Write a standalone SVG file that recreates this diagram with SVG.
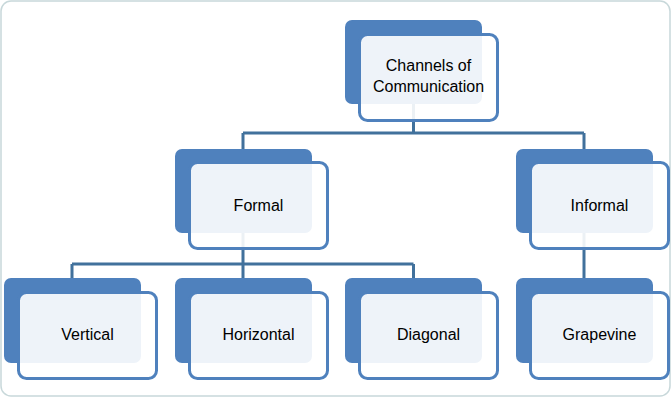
<svg xmlns="http://www.w3.org/2000/svg" width="671" height="397" viewBox="0 0 671 397">
<defs>
<style>
.back{fill:#4F81BD;}
.front{fill:#FFFFFF;fill-opacity:0.9;stroke:#4F81BD;stroke-width:3;}
.conn{fill:none;stroke:#41719C;stroke-width:3;}
.lbl{font-family:"Liberation Sans",Arial,sans-serif;font-size:16px;fill:#000;text-anchor:middle;}
.frame{fill:#FFFFFF;stroke:#C8D8DA;stroke-width:1.5;}
</style>
</defs>
<rect class="frame" x="1" y="1" width="669" height="395" rx="10"/>
<g id="connectors">
<path class="conn" d="M413.5 104 V133 M243 133 H584 M243 133 V149 M584 133 V149"/>
<path class="conn" d="M243 233 V264 M72 264 H413.5 M72 264 V278 M413.5 264 V278 M243 264 V278"/>
<path class="conn" d="M584 233 V278"/>
</g>
<g id="n-channels">
<rect class="back" x="345" y="20" width="137" height="84" rx="7"/>
<rect class="front" x="359.5" y="34.5" width="138" height="86" rx="8"/>
<text class="lbl" x="428.5" y="71">Channels of</text>
<text class="lbl" x="428.5" y="92">Communication</text>
</g>
<g id="n-formal">
<rect class="back" x="175" y="149" width="137" height="84" rx="7"/>
<rect class="front" x="189.5" y="162.5" width="138" height="86" rx="8"/>
<text class="lbl" x="258.5" y="211">Formal</text>
</g>
<g id="n-informal">
<rect class="back" x="516" y="149" width="137" height="84" rx="7"/>
<rect class="front" x="530.5" y="162.5" width="138" height="86" rx="8"/>
<text class="lbl" x="599.5" y="211">Informal</text>
</g>
<g id="n-vertical">
<rect class="back" x="4" y="278" width="137" height="85" rx="7"/>
<rect class="front" x="18.5" y="292.5" width="138" height="86" rx="8"/>
<text class="lbl" x="87.5" y="340">Vertical</text>
</g>
<g id="n-horizontal">
<rect class="back" x="175" y="278" width="137" height="85" rx="7"/>
<rect class="front" x="189.5" y="292.5" width="138" height="86" rx="8"/>
<text class="lbl" x="258.5" y="340">Horizontal</text>
</g>
<g id="n-diagonal">
<rect class="back" x="345" y="278" width="137" height="85" rx="7"/>
<rect class="front" x="359.5" y="292.5" width="138" height="86" rx="8"/>
<text class="lbl" x="428.5" y="340">Diagonal</text>
</g>
<g id="n-grapevine">
<rect class="back" x="516" y="278" width="137" height="85" rx="7"/>
<rect class="front" x="530.5" y="292.5" width="138" height="86" rx="8"/>
<text class="lbl" x="599.5" y="340">Grapevine</text>
</g>
</svg>
